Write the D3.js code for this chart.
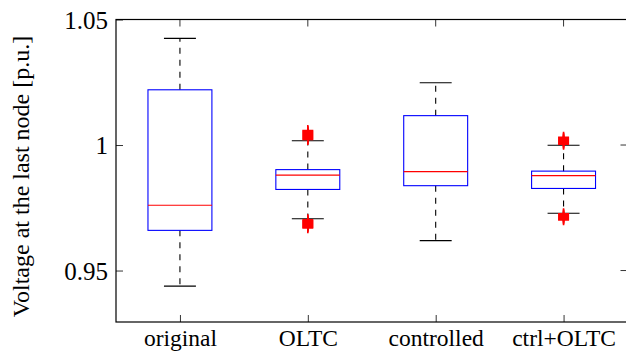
<!DOCTYPE html>
<html>
<head>
<meta charset="utf-8">
<script src="https://cdn.jsdelivr.net/npm/d3@7"></script>
</head>
<body style="margin:0;background:#fff">
<svg id="chart" width="626" height="352" style="display:block"></svg>
<script>
// ---- data ----
const categories = ["original", "OLTC", "controlled", "ctrl+OLTC"];
const whiskerLow  = [0.9438, 0.9706, 0.9619, 0.9728];
const q1          = [0.9660, 0.9823, 0.9838, 0.9827];
const median      = [0.9760, 0.9880, 0.9894, 0.9878];
const q3          = [1.0220, 0.9902, 1.0117, 0.9896];
const whiskerHigh = [1.0425, 1.0017, 1.0248, 0.9999];
const outliers = [
  [],
  [1.0022, 1.0026, 1.0030, 1.0034, 1.0038, 1.0042, 1.0046, 1.0050, 1.0054, 1.0058,
   0.9702, 0.9698, 0.9694, 0.9690, 0.9686, 0.9682, 0.9678, 0.9674, 0.9670],
  [],
  [1.0003, 1.0007, 1.0011, 1.0015, 1.0019, 1.0023, 1.0027, 1.0031,
   0.9726, 0.9722, 0.9718, 0.9714, 0.9710, 0.9706, 0.9702]
];
const yTicks = [0.95, 1.00, 1.05];
const yTickLabels = ["0.95", "1", "1.05"];
const yLabel = "Voltage at the last node [p.u.]";
const yMin = 0.9295, yMax = 1.05;

// ---- layout ----
const svg = d3.select("#chart");
const mLeft = 116, mRight = 627.5, mTop = 19.5, mBottom = 322;
const serif = "Liberation Serif";

const x = d3.scaleLinear().domain([0.5, 4.5]).range([mLeft, mRight]);
const y = d3.scaleLinear().domain([yMin, yMax]).range([mBottom, mTop]);

const boxW = x(1.25) - x(1);
const capW = x(1.125) - x(1);

const g = svg.append("g");

categories.forEach((c, i) => {
  const cx = x(i + 1);
  g.append("line").attr("x1", cx).attr("x2", cx)
    .attr("y1", y(q3[i])).attr("y2", y(whiskerHigh[i]))
    .attr("stroke", "#000").attr("stroke-width", 1.1).attr("stroke-dasharray", "6,6");
  g.append("line").attr("x1", cx).attr("x2", cx)
    .attr("y1", y(q1[i])).attr("y2", y(whiskerLow[i]))
    .attr("stroke", "#000").attr("stroke-width", 1.1).attr("stroke-dasharray", "6,6");
  [whiskerHigh[i], whiskerLow[i]].forEach(v => {
    g.append("line").attr("x1", cx - capW).attr("x2", cx + capW)
      .attr("y1", y(v)).attr("y2", y(v))
      .attr("stroke", "#000").attr("stroke-width", 1.1);
  });
  g.append("rect").attr("x", cx - boxW).attr("width", 2 * boxW)
    .attr("y", y(q3[i])).attr("height", y(q1[i]) - y(q3[i]))
    .attr("fill", "none").attr("stroke", "#0000ff").attr("stroke-width", 1.1);
  g.append("line").attr("x1", cx - boxW).attr("x2", cx + boxW)
    .attr("y1", y(median[i])).attr("y2", y(median[i]))
    .attr("stroke", "#ff0000").attr("stroke-width", 1.1);
  const ps = 5.5;
  outliers[i].forEach(v => {
    const py = y(v);
    g.append("path")
      .attr("d", `M${cx - ps},${py}H${cx + ps}M${cx},${py - ps}V${py + ps}`)
      .attr("stroke", "#ff0000").attr("stroke-width", 1.6).attr("fill", "none");
  });
});

const ax = svg.append("g");
ax.append("rect").attr("x", mLeft).attr("y", mTop)
  .attr("width", mRight - mLeft).attr("height", mBottom - mTop)
  .attr("fill", "none").attr("stroke", "#000").attr("stroke-width", 1.2);

const yAxis = d3.axisLeft(y).tickValues(yTicks)
  .tickFormat((d, i) => yTickLabels[i]).tickSize(-7).tickPadding(8);
const yg = svg.append("g").attr("transform", `translate(${mLeft},0)`).call(yAxis)
  .attr("font-family", serif).attr("font-size", 25);
yg.select(".domain").remove();
yg.selectAll(".tick line").attr("stroke", "#000").attr("stroke-width", 0.8);
yg.selectAll(".tick text").attr("font-size", 25).attr("dy", "0.34em")
  .attr("font-family", serif).style("font-family", serif).attr("fill", "#000");

yTicks.forEach(v => {
  ax.append("line").attr("x1", mRight).attr("x2", mRight - 7)
    .attr("y1", y(v)).attr("y2", y(v)).attr("stroke", "#000").attr("stroke-width", 0.8);
});

const xAxis = d3.axisBottom(x).tickValues([1, 2, 3, 4])
  .tickFormat((d) => categories[d - 1]).tickSize(-7).tickPadding(15);
const xg = svg.append("g").attr("transform", `translate(0,${mBottom})`).call(xAxis)
  .attr("font-family", serif).attr("font-size", 23.5);
xg.select(".domain").remove();
xg.selectAll(".tick line").attr("stroke", "#000").attr("stroke-width", 0.8);
xg.selectAll(".tick text").attr("font-size", 23.5).attr("y", 24).attr("dy", 0)
  .attr("font-family", serif).style("font-family", serif).attr("fill", "#000");

[1, 2, 3, 4].forEach(v => {
  ax.append("line").attr("x1", x(v)).attr("x2", x(v))
    .attr("y1", mTop).attr("y2", mTop + 7).attr("stroke", "#000").attr("stroke-width", 0.8);
});

svg.append("text")
  .attr("transform", `translate(29,176.5) rotate(-90)`)
  .attr("text-anchor", "middle")
  .attr("font-size", 24)
  .attr("font-family", serif)
  .style("font-family", serif)
  .attr("fill", "#000")
  .text(yLabel);
</script>
</body>
</html>
